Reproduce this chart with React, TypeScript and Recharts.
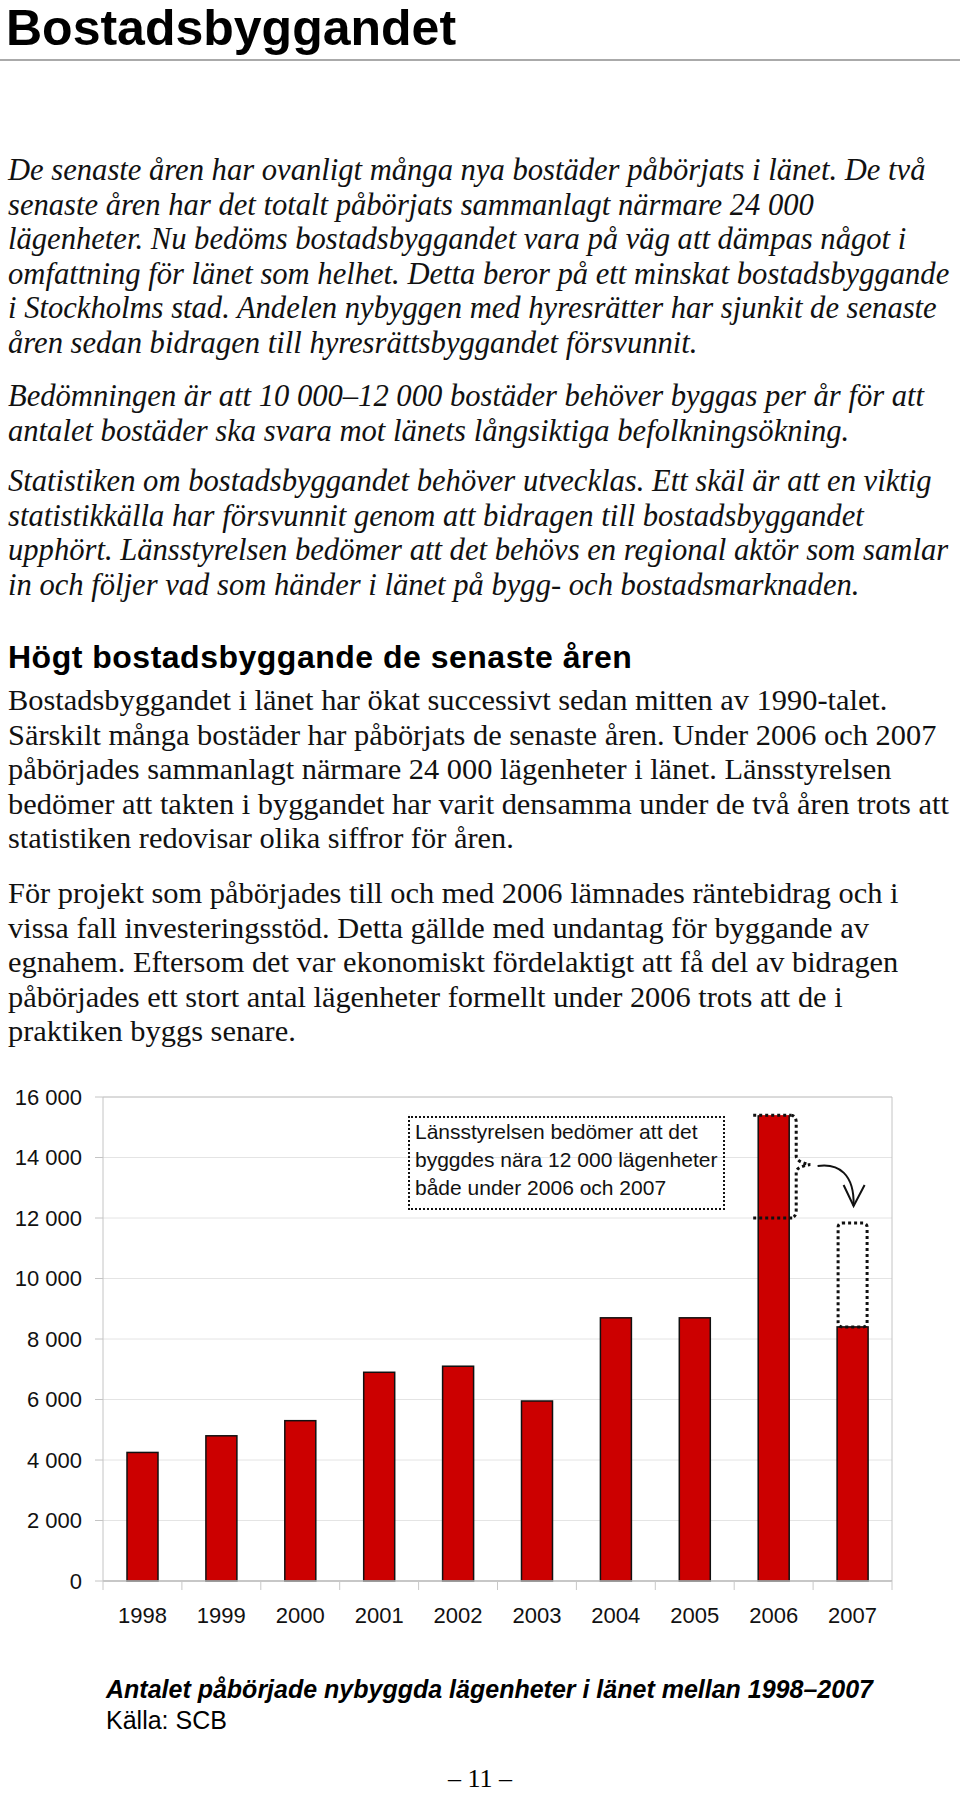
import { Bar, BarChart, CartesianGrid, ReferenceLine, XAxis, YAxis } from "recharts";

const years = ["1998", "1999", "2000", "2001", "2002", "2003", "2004", "2005", "2006", "2007"];
// påbörjade lägenheter enligt SCB
const started = [4250, 4800, 5300, 6900, 7100, 5950, 8700, 8700, 15400, 8400];
// Länsstyrelsens bedömning för 2006 och 2007
const estimated: (number | null)[] = [null, null, null, null, null, null, null, null, 12000, 12000];
const yTicks = [0, 2000, 4000, 6000, 8000, 10000, 12000, 14000, 16000];

const title = "Bostadsbyggandet";
const introLines = [
	"De senaste åren har ovanligt många nya bostäder påbörjats i länet. De två",
	"senaste åren har det totalt påbörjats sammanlagt närmare 24 000",
	"lägenheter. Nu bedöms bostadsbyggandet vara på väg att dämpas något i",
	"omfattning för länet som helhet. Detta beror på ett minskat bostadsbyggande",
	"i Stockholms stad. Andelen nybyggen med hyresrätter har sjunkit de senaste",
	"åren sedan bidragen till hyresrättsbyggandet försvunnit.",
];
const needLines = [
	"Bedömningen är att 10 000–12 000 bostäder behöver byggas per år för att",
	"antalet bostäder ska svara mot länets långsiktiga befolkningsökning.",
];
const statLines = [
	"Statistiken om bostadsbyggandet behöver utvecklas. Ett skäl är att en viktig",
	"statistikkälla har försvunnit genom att bidragen till bostadsbyggandet",
	"upphört. Länsstyrelsen bedömer att det behövs en regional aktör som samlar",
	"in och följer vad som händer i länet på bygg- och bostadsmarknaden.",
];
const heading = "Högt bostadsbyggande de senaste åren";
const trendLines = [
	"Bostadsbyggandet i länet har ökat successivt sedan mitten av 1990-talet.",
	"Särskilt många bostäder har påbörjats de senaste åren. Under 2006 och 2007",
	"påbörjades sammanlagt närmare 24 000 lägenheter i länet. Länsstyrelsen",
	"bedömer att takten i byggandet har varit densamma under de två åren trots att",
	"statistiken redovisar olika siffror för åren.",
];
const subsidyLines = [
	"För projekt som påbörjades till och med 2006 lämnades räntebidrag och i",
	"vissa fall investeringsstöd. Detta gällde med undantag för byggande av",
	"egnahem. Eftersom det var ekonomiskt fördelaktigt att få del av bidragen",
	"påbörjades ett stort antal lägenheter formellt under 2006 trots att de i",
	"praktiken byggs senare.",
];
const noteLines = ["Länsstyrelsen bedömer att det", "byggdes nära 12 000 lägenheter", "både under 2006 och 2007"];
const caption = "Antalet påbörjade nybyggda lägenheter i länet mellan 1998–2007";
const source = "Källa: SCB";
const pageNo = "– 11 –";

const RED = "#cc0000";
const INK = "#111";
const SERIF = '"Liberation Serif", "Times New Roman", serif';
const SANS = '"Liberation Sans", Arial, sans-serif';

const rows = years.map((year, i) => {
	const est = estimated[i];
	const value = started[i];
	const over = est != null && value > est;
	return {
		year,
		built: over ? (est as number) : value,
		over: over ? value - (est as number) : 0,
		gap: est != null && est > value ? est - value : 0,
	};
});

const fmt = (v: number) => (v >= 1000 ? `${Math.floor(v / 1000)} ${String(v % 1000).padStart(3, "0")}` : String(v));

const dots = { stroke: INK, strokeWidth: 3, strokeDasharray: "3 3", fill: "none" };

function BuiltShape(props: any) {
	const { x, y, width, height, payload } = props;
	if (!height || height < 0.5) return <g />;
	if (payload.over > 0) {
		return (
			<g>
				<rect x={x} y={y} width={width} height={height} fill={RED} />
				<path d={`M${x},${y} L${x},${y + height} L${x + width},${y + height} L${x + width},${y}`} stroke={INK} strokeWidth={1.5} fill="none" />
			</g>
		);
	}
	return <rect x={x} y={y} width={width} height={height} fill={RED} stroke={INK} strokeWidth={1.5} />;
}

function OverShape(props: any) {
	const { x, y, width, height } = props;
	if (!height || height < 0.5) return <g />;
	const r = x + width;
	const b = y + height;
	const m = y + height / 2 - 2;
	return (
		<g>
			<rect x={x} y={y} width={width} height={height} fill={RED} />
			<line x1={x} y1={y} x2={x} y2={b} stroke={INK} strokeWidth={1.5} />
			<line x1={r} y1={y} x2={r} y2={b} stroke={INK} strokeWidth={1.5} />
			<line x1={x - 5} y1={y} x2={r + 2} y2={y} {...dots} />
			<line x1={x - 5} y1={b} x2={r + 3} y2={b} {...dots} />
			<path
				d={`M${r + 2},${y} Q${r + 7},${y + 1} ${r + 7},${y + 7} L${r + 7},${m - 8} Q${r + 8},${m - 2} ${r + 21},${m} Q${r + 8},${m + 2} ${r + 7},${m + 7} L${r + 7},${b - 8} Q${r + 7},${b - 1} ${r + 2},${b}`}
				{...dots}
			/>
		</g>
	);
}

function GapShape(props: any) {
	const { x, y, width, height } = props;
	if (!height || height < 0.5) return <g />;
	const top = y + 5;
	const cx = x + width / 2;
	const sx = cx - 35;
	const sy = top - 57;
	return (
		<g>
			<rect x={x + 1} y={top} width={width - 2} height={height - 5} rx={4} {...dots} />
			<path d={`M${sx},${sy} C${cx - 14},${sy - 3} ${cx + 2},${sy + 8} ${cx + 1},${top - 17}`} stroke={INK} strokeWidth={2} fill="none" />
			<path d={`M${cx - 9},${top - 38} L${cx + 1},${top - 17} L${cx + 12},${top - 38}`} stroke={INK} strokeWidth={2} fill="none" />
		</g>
	);
}

function YearTick(props: any) {
	const { x, y, payload, index, width } = props;
	const half = (width || 789) / years.length / 2;
	const last = index === years.length - 1;
	return (
		<g>
			<line x1={x - half} y1={y} x2={x - half} y2={y + 9} stroke="#c8c8c8" strokeWidth={1} />
			{last && <line x1={x + half} y1={y} x2={x + half} y2={y + 9} stroke="#c8c8c8" strokeWidth={1} />}
			<text x={x} y={y + 42} textAnchor="middle" fontSize={22} fill={INK} fontFamily={SANS}>
				{payload.value}
			</text>
		</g>
	);
}

function Lines({ lines, top, italic, size }: { lines: string[]; top: number; italic?: boolean; size: number }) {
	const lh = 34.5;
	return (
		<>
			{lines.map((l, i) => (
				<div
					key={l}
					style={{
						position: "absolute",
						left: 8,
						top: top + i * lh,
						fontFamily: SERIF,
						fontStyle: italic ? "italic" : "normal",
						fontSize: size,
						lineHeight: "34px",
						whiteSpace: "nowrap",
						color: INK,
					}}
				>
					{l}
				</div>
			))}
		</>
	);
}

export default function App() {
	return (
		<div style={{ position: "relative", width: 960, height: 1793, overflow: "hidden", background: "#fff" }}>
			<style>{"body{margin:0}"}</style>
			<div style={{ position: "absolute", left: 6, top: 0, fontFamily: SANS, fontWeight: 700, fontSize: 50, lineHeight: "56px", color: "#000", whiteSpace: "nowrap" }}>{title}</div>
			<div style={{ position: "absolute", left: 0, top: 59, width: 960, height: 2, background: "#aaa" }} />

			<Lines lines={introLines} top={153} italic size={30.6} />
			<Lines lines={needLines} top={379} italic size={30.6} />
			<Lines lines={statLines} top={464} italic size={30.6} />

			<div style={{ position: "absolute", left: 8, top: 641, fontFamily: SANS, fontWeight: 700, fontSize: 32, lineHeight: "32px", letterSpacing: 0.5, whiteSpace: "nowrap", color: "#000" }}>
				{heading}
			</div>

			<Lines lines={trendLines} top={683} size={30.4} />
			<Lines lines={subsidyLines} top={876} size={30.4} />

			<div style={{ position: "absolute", left: 0, top: 1070 }}>
				<BarChart width={960} height={580} data={rows} margin={{ top: 27, right: 68, bottom: 0, left: 0 }} barSize={31}>
					<CartesianGrid vertical={false} stroke="#e4e4e4" />
					<CartesianGrid
						horizontal={false}
						stroke="#c4c4c4"
						verticalCoordinatesGenerator={({ offset }: any) => [offset.left + offset.width]}
					/>
					<ReferenceLine y={16000} stroke="#c4c4c4" />
					<XAxis
						dataKey="year"
						stroke="#b8b8b8"
						strokeWidth={1.5}
						tickLine={false}
						tickSize={0}
						tickMargin={0}
						height={69}
						interval={0}
						tick={(p: any) => <YearTick {...p} />}
					/>
					<YAxis
						width={103}
						domain={[0, 16000]}
						ticks={yTicks}
						interval={0}
						tickFormatter={fmt}
						stroke="#c4c4c4"
						tickSize={8}
						tickMargin={13}
						tick={{ fontSize: 22, fill: INK, fontFamily: SANS }}
					/>
					<Bar dataKey="built" stackId="y" fill={RED} isAnimationActive={false} shape={(p: any) => <BuiltShape {...p} />} />
					<Bar dataKey="over" stackId="y" fill={RED} isAnimationActive={false} shape={(p: any) => <OverShape {...p} />} />
					<Bar dataKey="gap" stackId="y" fill="none" isAnimationActive={false} shape={(p: any) => <GapShape {...p} />} />
				</BarChart>
			</div>

			<div
				style={{
					position: "absolute",
					left: 408,
					top: 1116,
					width: 317,
					height: 94,
					boxSizing: "border-box",
					border: `2px dotted ${INK}`,
					padding: "0 0 0 5px",
					fontFamily: SANS,
					fontSize: 21,
					lineHeight: "28px",
					color: INK,
					whiteSpace: "nowrap",
				}}
			>
				{noteLines.map((l) => (
					<div key={l}>{l}</div>
				))}
			</div>

			<div style={{ position: "absolute", left: 106, top: 1677, fontFamily: SANS, fontWeight: 700, fontStyle: "italic", fontSize: 25, lineHeight: "25px", whiteSpace: "nowrap", color: "#000" }}>
				{caption}
			</div>
			<div style={{ position: "absolute", left: 106, top: 1708, fontFamily: SANS, fontSize: 25, lineHeight: "25px", color: "#000" }}>{source}</div>
			<div style={{ position: "absolute", left: 0, width: 960, top: 1768, textAlign: "center", fontFamily: SERIF, fontSize: 26, lineHeight: "22px", color: "#000" }}>
				{pageNo}
			</div>
		</div>
	);
}
